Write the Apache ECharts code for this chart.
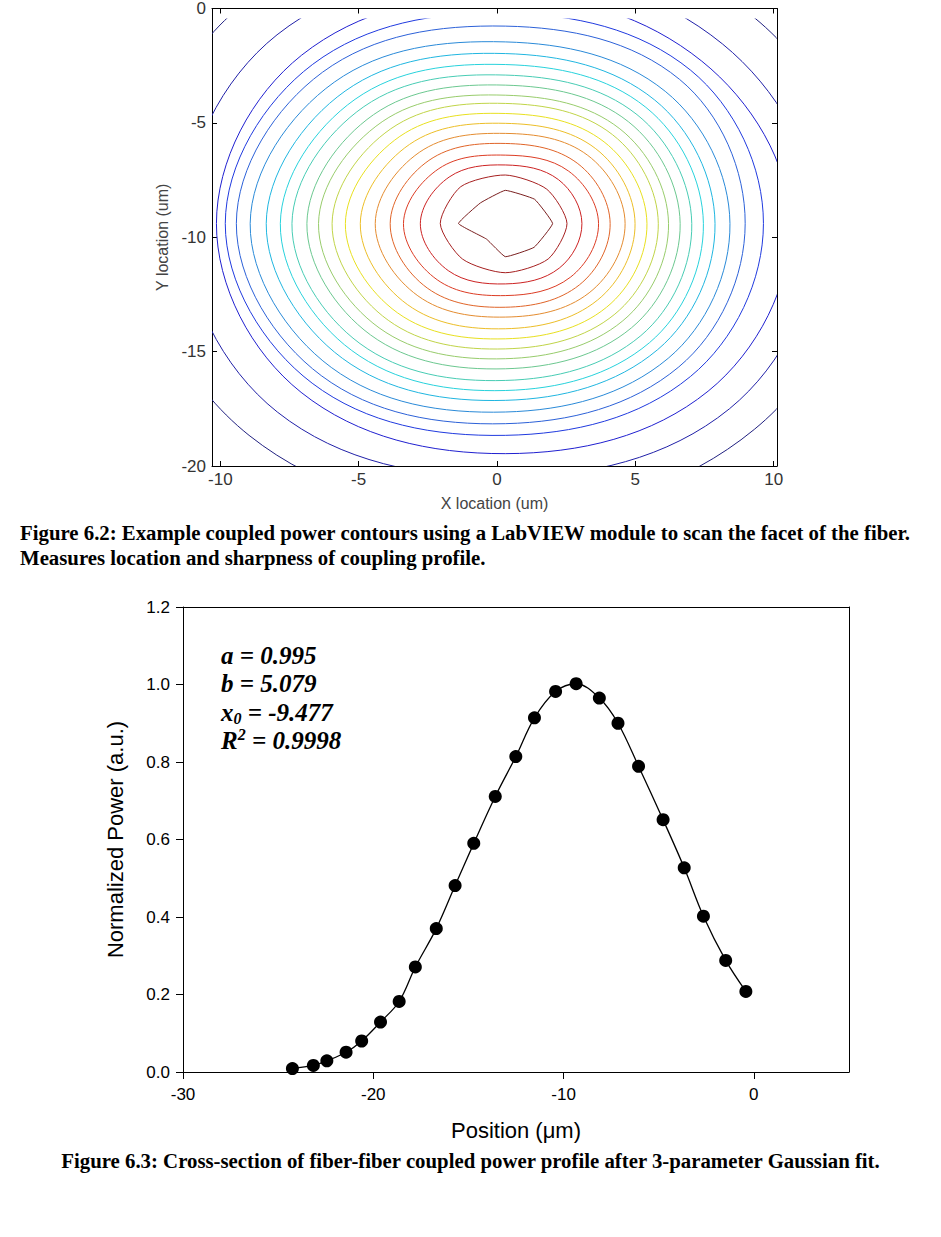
<!DOCTYPE html>
<html>
<head>
<meta charset="utf-8">
<script src="https://cdn.jsdelivr.net/npm/echarts@6/dist/echarts.min.js"></script>
<style>
html,body{margin:0;padding:0;background:#fff;}
#chart{width:941px;height:1237px;}
</style>
</head>
<body>
<div id="chart"></div>
<script>
// ---------- Figure 6.2 : contour data ----------
const xTicksTop = [-10, -5, 0, 5, 10];
const yTicksTop = [0, -5, -10, -15, -20];
const scanX = [-10.3, 10.12];
const scanY = [-20, -0.44];
const contourCenter = [0.3, -9.4];
// distance of each contour level (outer -> inner) from the centre along 8 directions
const ringN  = [12.7, 11.1, 10.0, 9.2, 8.63, 7.94, 7.43, 6.95, 6.49, 6.05, 5.61, 5.25, 4.81, 4.38, 3.94, 3.50, 2.99, 2.56, 2.12, 1.45];
const ringNE = [9.0, 7.85, 7.1, 6.7, 6.3, 5.78, 5.40, 5.08, 4.76, 4.45, 4.14, 3.88, 3.57, 3.27, 2.98, 2.62, 2.29, 1.92, 1.50, 1.06];
const ringE  = [12.8, 11.3, 10.3, 9.33, 8.67, 8.12, 7.58, 7.16, 6.74, 6.32, 5.90, 5.53, 5.12, 4.69, 4.33, 3.79, 3.37, 2.77, 2.23, 1.71];
const ringSE = [9.0, 8.1, 7.33, 6.69, 6.27, 5.89, 5.51, 5.21, 4.90, 4.56, 4.25, 3.96, 3.66, 3.34, 3.03, 2.68, 2.35, 1.95, 1.55, 1.04];
const ringS  = [12.7, 11.1, 10.06, 9.26, 8.75, 8.24, 7.73, 7.30, 6.86, 6.35, 5.91, 5.48, 5.04, 4.60, 4.09, 3.66, 3.15, 2.64, 2.15, 1.45];
const ringSW = [9.26, 8.24, 7.38, 6.98, 6.65, 6.29, 5.89, 5.55, 5.25, 4.87, 4.56, 4.23, 3.90, 3.54, 3.16, 2.82, 2.46, 2.06, 1.55, 0.68];
const ringW  = [13.2, 11.6, 10.44, 10.12, 9.72, 9.22, 8.64, 8.13, 7.71, 7.17, 6.75, 6.26, 5.78, 5.24, 4.70, 4.16, 3.68, 3.07, 2.35, 1.69];
const ringNW = [9.53, 8.25, 7.36, 6.96, 6.61, 6.18, 5.79, 5.43, 5.11, 4.76, 4.45, 4.14, 3.81, 3.46, 3.11, 2.76, 2.40, 2.03, 1.61, 0.90];

// ---------- Figure 6.3 : scan profile data ----------
const posX  = [-24.25, -23.15, -22.44, -21.43, -20.61, -19.62, -18.64, -17.79, -16.69, -15.70, -14.72, -13.59, -12.51, -11.53, -10.42, -9.34, -8.12, -7.14, -6.06, -4.77, -3.66, -2.65, -1.48, -0.42];
const power = [0.009, 0.017, 0.029, 0.051, 0.080, 0.129, 0.182, 0.271, 0.370, 0.481, 0.590, 0.711, 0.814, 0.914, 0.982, 1.002, 0.965, 0.900, 0.789, 0.651, 0.527, 0.402, 0.288, 0.208];
const xTicksBottom = [-30, -20, -10, 0];
const yTicksBottom = [0, 0.2, 0.4, 0.6, 0.8, 1.0, 1.2];

// ---------- styles ----------
const jet = ['#202080','#2020a8','#2020d0','#203adf','#2c61d8','#2a8ad8','#20b6e0','#28d2dc','#48ccb4','#6cc890',
             '#98cc6c','#c0d448','#e8e020','#ecbe28','#e48c30','#e06428','#dc3c24','#cc2222','#a62020','#7a2020'];
const sans = 'Liberation Sans, Arial, sans-serif';
const serif = 'Liberation Serif, Times New Roman, serif';

const profile = posX.map((x, i) => [x, power[i]]);

function renderContour(params, api) {
  const i = params.dataIndex;
  const cx = contourCenter[0], cy = contourCenter[1];
  const pts = [
    [cx, cy + ringN[i]],
    [cx + ringNE[i], cy + ringNE[i]],
    [cx + ringE[i], cy],
    [cx + ringSE[i], cy - ringSE[i]],
    [cx, cy - ringS[i]],
    [cx - ringSW[i], cy - ringSW[i]],
    [cx - ringW[i], cy],
    [cx - ringNW[i], cy + ringNW[i]]
  ].map(p => api.coord(p));
  const tl = api.coord([scanX[0], scanY[1]]);
  const br = api.coord([scanX[1], scanY[0]]);
  const smooth = i === 19 ? 0.1 : (i === 18 ? 0.25 : 0.37);
  return {
    type: 'group',
    clipPath: { type: 'rect', shape: { x: tl[0], y: tl[1], width: br[0] - tl[0], height: br[1] - tl[1] } },
    children: [{
      type: 'polygon',
      shape: { points: pts, smooth: smooth },
      style: { fill: 'none', stroke: jet[i], lineWidth: 1 }
    }]
  };
}

const topLabel = { fontFamily: sans, fontSize: 17, color: '#333' };
const botLabel = { fontFamily: sans, fontSize: 17, color: '#000' };

const chart = echarts.init(document.getElementById('chart'), null, { renderer: 'svg' });
chart.setOption({
  animation: false,
  backgroundColor: '#fff',
  title: [
    {
      text: 'Figure 6.2: Example coupled power contours using a LabVIEW module to scan the facet of the fiber.\nMeasures location and sharpness of coupling profile.',
      left: 20, top: 520, padding: 0,
      textStyle: { fontFamily: serif, fontWeight: 'bold', fontSize: 20.8, lineHeight: 25, color: '#000' }
    },
    {
      text: 'Figure 6.3: Cross-section of fiber-fiber coupled power profile after 3-parameter Gaussian fit.',
      left: 'center', top: 1150, padding: 0,
      textStyle: { fontFamily: serif, fontWeight: 'bold', fontSize: 20.8, color: '#000' }
    },
    {
      text: '{v|a = 0.995}\n{v|b = 5.079}\n{v|x}{sub|0}{v| = -9.477}\n{v|R}{sup|2}{v| = 0.9998}',
      left: 221, top: 641, padding: 0,
      textStyle: {
        rich: {
          v:   { fontFamily: serif, fontStyle: 'italic', fontWeight: 'bold', fontSize: 25, lineHeight: 28.5, color: '#000' },
          sub: { fontFamily: serif, fontStyle: 'italic', fontWeight: 'bold', fontSize: 16, lineHeight: 15, verticalAlign: 'bottom', color: '#000' },
          sup: { fontFamily: serif, fontStyle: 'italic', fontWeight: 'bold', fontSize: 16, lineHeight: 15, verticalAlign: 'top', color: '#000' }
        }
      }
    }
  ],
  grid: [
    { left: 212, top: 8, width: 565, height: 458 },
    { left: 183, top: 607, width: 666, height: 465 }
  ],
  xAxis: [
    {
      gridIndex: 0, type: 'value', min: scanX[0], max: scanX[1], position: 'bottom',
      axisLine: { show: true, onZero: false, lineStyle: { color: '#000', width: 1 } },
      axisTick: { show: true, inside: true, length: 5, customValues: xTicksTop, lineStyle: { color: '#000' } },
      axisLabel: Object.assign({ customValues: xTicksTop, margin: 5 }, topLabel),
      splitLine: { show: false },
      name: 'X location (um)', nameLocation: 'middle', nameGap: 29,
      nameTextStyle: { fontFamily: sans, fontSize: 16, color: '#444' }
    },
    {
      gridIndex: 0, type: 'value', min: scanX[0], max: scanX[1], position: 'top',
      axisLine: { show: true, onZero: false, lineStyle: { color: '#000', width: 1 } },
      axisTick: { show: true, inside: true, length: 5, customValues: xTicksTop, lineStyle: { color: '#000' } },
      axisLabel: { show: false }, splitLine: { show: false }
    },
    {
      gridIndex: 1, type: 'value', min: -30, max: 5, position: 'bottom',
      axisLine: { show: true, onZero: false, lineStyle: { color: '#000', width: 1 } },
      axisTick: { show: true, inside: false, length: 7, customValues: xTicksBottom, lineStyle: { color: '#000' } },
      axisLabel: Object.assign({ customValues: xTicksBottom, margin: 14 }, botLabel),
      splitLine: { show: false },
      name: 'Position (μm)', nameLocation: 'middle', nameGap: 47,
      nameTextStyle: { fontFamily: sans, fontSize: 22, color: '#000' }
    },
    {
      gridIndex: 1, type: 'value', min: -30, max: 5, position: 'top',
      axisLine: { show: true, onZero: false, lineStyle: { color: '#000', width: 1 } },
      axisTick: { show: false }, axisLabel: { show: false }, splitLine: { show: false }
    }
  ],
  yAxis: [
    {
      gridIndex: 0, type: 'value', min: -20, max: 0, position: 'left',
      axisLine: { show: true, onZero: false, lineStyle: { color: '#000', width: 1 } },
      axisTick: { show: true, inside: true, length: 5, customValues: yTicksTop, lineStyle: { color: '#000' } },
      axisLabel: Object.assign({ customValues: yTicksTop, margin: 6 }, topLabel),
      splitLine: { show: false },
      name: 'Y location (um)', nameLocation: 'middle', nameGap: 41,
      nameTextStyle: { fontFamily: sans, fontSize: 16, color: '#444' }
    },
    {
      gridIndex: 0, type: 'value', min: -20, max: 0, position: 'right',
      axisLine: { show: true, onZero: false, lineStyle: { color: '#000', width: 1 } },
      axisTick: { show: true, inside: true, length: 5, customValues: yTicksTop, lineStyle: { color: '#000' } },
      axisLabel: { show: false }, splitLine: { show: false }
    },
    {
      gridIndex: 1, type: 'value', min: 0, max: 1.2, position: 'left',
      axisLine: { show: true, onZero: false, lineStyle: { color: '#000', width: 1 } },
      axisTick: { show: true, inside: false, length: 7, customValues: yTicksBottom, lineStyle: { color: '#000' } },
      axisLabel: Object.assign({ customValues: yTicksBottom, margin: 13, formatter: v => Number(v).toFixed(1) }, botLabel),
      splitLine: { show: false },
      name: 'Normalized Power (a.u.)', nameLocation: 'middle', nameGap: 57,
      nameTextStyle: { fontFamily: sans, fontSize: 22, color: '#000' }
    },
    {
      gridIndex: 1, type: 'value', min: 0, max: 1.2, position: 'right',
      axisLine: { show: true, onZero: false, lineStyle: { color: '#000', width: 1 } },
      axisTick: { show: false }, axisLabel: { show: false }, splitLine: { show: false }
    }
  ],
  series: [
    {
      type: 'custom', name: 'contours', coordinateSystem: 'cartesian2d',
      xAxisIndex: 0, yAxisIndex: 0, clip: true, silent: true,
      renderItem: renderContour,
      data: ringN.map((r, i) => [contourCenter[0], contourCenter[1], i])
    },
    {
      type: 'line', name: 'fit', xAxisIndex: 2, yAxisIndex: 2,
      data: profile, smooth: 0.35, showSymbol: false, silent: true,
      lineStyle: { color: '#000', width: 1.3 }
    },
    {
      type: 'scatter', name: 'data', xAxisIndex: 2, yAxisIndex: 2,
      data: profile, symbol: 'circle', symbolSize: 13, silent: true,
      itemStyle: { color: '#000', opacity: 1 }
    }
  ]
});
</script>
</body>
</html>
